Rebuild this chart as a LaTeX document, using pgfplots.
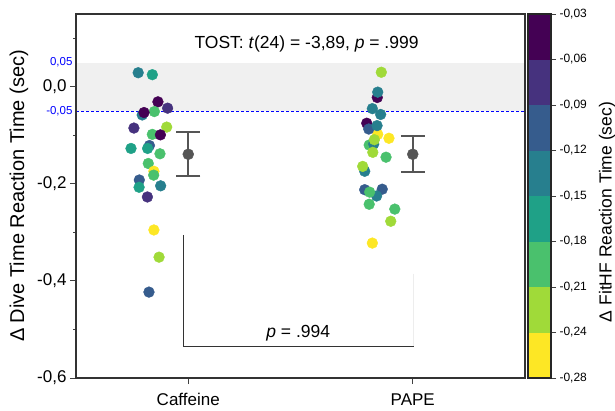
\documentclass[border=0pt]{standalone}
\usepackage{fontspec}
\setmainfont{Liberation Sans}
\usepackage{pgfplots}
\pgfplotsset{compat=1.18}

% viridis, 8 bins of the colour bar (top to bottom)
\definecolor{vA}{HTML}{440154}
\definecolor{vB}{HTML}{46327E}
\definecolor{vC}{HTML}{365C8D}
\definecolor{vD}{HTML}{277F8E}
\definecolor{vE}{HTML}{1FA187}
\definecolor{vF}{HTML}{4AC16D}
\definecolor{vG}{HTML}{A0DA39}
\definecolor{vH}{HTML}{FDE725}
\definecolor{shade}{HTML}{F0F0F0}
\definecolor{errgray}{HTML}{555555}

\begin{document}
\begin{tikzpicture}
\useasboundingbox (0pt,0pt) rectangle (615pt,410pt);
\begin{axis}[
  at={(76pt,32pt)}, anchor=south west,
  width=449pt, height=364pt, scale only axis,
  xmin=-0.5, xmax=1.5, ymin=-0.6, ymax=0.15,
  xtick={0,1}, xticklabels={Caffeine,PAPE},
  xticklabel style={yshift=-6pt},
  ytick={-0.6,-0.4,-0.2,0},
  yticklabels={{-0,6},{-0,4},{-0,2},{0,0}},
  minor ytick={-0.5,-0.3,-0.1,0.1},
  extra y ticks={0.05,-0.05},
  extra y tick labels={{0,05},{-0,05}},
  extra y tick style={major tick length=0pt,
    yticklabel style={text=blue, font=\fontsize{11.5}{13}\selectfont}},
  tick pos=left, tick align=outside,
  major tick length=6pt, minor tick length=3pt,
  tick style={black!75, line width=1pt},
  axis line style={black!80, line width=1.1pt},
  ticklabel style={font=\fontsize{17}{20}\selectfont},
  axis on top,
  clip=false,
]
% equivalence band
\addplot[fill=shade, draw=none] coordinates {(-0.5,-0.05) (1.5,-0.05) (1.5,0.05) (-0.5,0.05)} -- cycle;
\addplot[blue, densely dashed, line width=0.8pt] coordinates {(-0.5,-0.05) (1.5,-0.05)};

% comparison bracket
\addplot[black!80, line width=1pt] coordinates {(-0.02,-0.305) (-0.02,-0.535) (1.005,-0.535)};
\addplot[black!7, line width=1pt] coordinates {(1.005,-0.385) (1.005,-0.535)};

% individual participants, coloured by FitHF change
\addplot[scatter, only marks, mark=*, mark size=5.4pt,
  point meta=explicit symbolic,
  scatter/classes={
    a={draw=vA,fill=vA}, b={draw=vB,fill=vB}, c={draw=vC,fill=vC},
    d={draw=vD,fill=vD}, e={draw=vE,fill=vE}, f={draw=vF,fill=vF},
    g={draw=vG,fill=vG}, h={draw=vH,fill=vH}}]
  table[meta=c] {
x y c
-0.223 0.029 d
-0.160 0.025 e
-0.135 -0.031 a
-0.092 -0.044 b
-0.205 -0.058 d
-0.151 -0.051 f
-0.197 -0.053 a
-0.242 -0.085 b
-0.096 -0.083 g
-0.160 -0.098 f
-0.124 -0.099 a
-0.173 -0.121 c
-0.255 -0.127 e
-0.181 -0.127 e
-0.126 -0.138 f
-0.178 -0.158 f
-0.153 -0.174 h
-0.154 -0.182 f
-0.218 -0.192 c
-0.219 -0.207 e
-0.123 -0.204 d
-0.182 -0.227 b
-0.153 -0.295 h
-0.130 -0.351 g
-0.175 -0.423 c
0.860 0.030 g
0.842 -0.022 a
0.844 -0.011 d
0.820 -0.045 d
0.857 -0.057 d
0.795 -0.075 a
0.844 -0.098 h
0.804 -0.087 c
0.841 -0.080 d
0.894 -0.106 h
0.806 -0.120 f
0.826 -0.118 d
0.829 -0.109 g
0.822 -0.135 g
0.881 -0.145 f
0.786 -0.174 d
0.777 -0.164 g
0.786 -0.212 c
0.864 -0.211 c
0.839 -0.225 d
0.808 -0.217 f
0.806 -0.242 f
0.920 -0.252 f
0.902 -0.277 g
0.820 -0.322 h
};

% group means with error bars
\addplot[only marks, mark=*, mark size=5.5pt, color=errgray,
  error bars/.cd, y dir=both, y explicit,
  error bar style={line width=2pt, color=errgray},
  error mark options={rotate=90, mark size=12pt, line width=2pt, color=errgray}]
  coordinates {(0,-0.139) +- (0,0.045) (1,-0.139) +- (0,0.037)};

\node[anchor=base, font=\fontsize{17.5}{20}\selectfont] at (axis cs:0.527,0.079)
  {TOST: \textit{t}(24) = -3,89, \textit{p} = .999};
\node[anchor=base, font=\fontsize{17.5}{20}\selectfont] at (axis cs:0.49,-0.516)
  {\textit{p} = .994};
\end{axis}

% colour bar
\begin{axis}[
  at={(528pt,32pt)}, anchor=south west,
  width=23pt, height=364pt, scale only axis,
  xmin=0, xmax=1, ymin=0, ymax=8,
  xtick=\empty,
  ytick={0,1,2,3,4,5,6,7,8},
  yticklabels={{-0,28},{-0,24},{-0,21},{-0,18},{-0,15},{-0,12},{-0,09},{-0,06},{-0,03}},
  ytick pos=right, yticklabel pos=right, tick align=outside,
  major tick length=5pt,
  tick style={black!75, line width=1pt},
  axis line style={black!85, line width=1.1pt},
  yticklabel style={font=\fontsize{12}{14}\selectfont},
  axis on top,
]
\addplot[fill=vH, draw=none] coordinates {(0,0) (1,0) (1,1) (0,1)} -- cycle;
\addplot[fill=vG, draw=none] coordinates {(0,1) (1,1) (1,2) (0,2)} -- cycle;
\addplot[fill=vF, draw=none] coordinates {(0,2) (1,2) (1,3) (0,3)} -- cycle;
\addplot[fill=vE, draw=none] coordinates {(0,3) (1,3) (1,4) (0,4)} -- cycle;
\addplot[fill=vD, draw=none] coordinates {(0,4) (1,4) (1,5) (0,5)} -- cycle;
\addplot[fill=vC, draw=none] coordinates {(0,5) (1,5) (1,6) (0,6)} -- cycle;
\addplot[fill=vB, draw=none] coordinates {(0,6) (1,6) (1,7) (0,7)} -- cycle;
\addplot[fill=vA, draw=none] coordinates {(0,7) (1,7) (1,8) (0,8)} -- cycle;
\end{axis}

\node[rotate=90, font=\fontsize{20}{22}\selectfont] at (19pt,214pt)
  {Δ Dive Time Reaction Time (sec)};
\node[rotate=90, font=\fontsize{17.5}{20}\selectfont] at (607pt,198pt)
  {Δ FitHF Reaction Time (sec)};
\end{tikzpicture}
\end{document}
